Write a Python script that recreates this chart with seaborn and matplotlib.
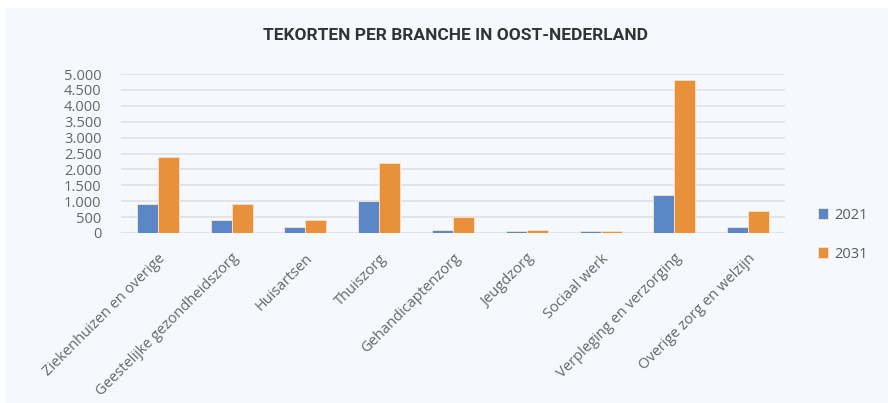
import pandas as pd
import matplotlib.pyplot as plt
import matplotlib as mpl
import seaborn as sns
from matplotlib.patches import Rectangle

# data
branches = ["Ziekenhuizen en overige", "Geestelijke gezondheidszorg", "Huisartsen",
            "Thuiszorg", "Gehandicaptenzorg", "Jeugdzorg", "Sociaal werk",
            "Verpleging en verzorging", "Overige zorg en welzijn"]
tekort_2021 = [900, 400, 200, 1000, 100, 50, 50, 1200, 200]
tekort_2031 = [2400, 900, 400, 2200, 500, 100, 50, 4800, 700]
years = ["2021", "2031"]
yticks = [0, 500, 1000, 1500, 2000, 2500, 3000, 3500, 4000, 4500, 5000]

df = pd.DataFrame({"Branche": branches * 2,
                   "Jaar": [years[0]] * len(branches) + [years[1]] * len(branches),
                   "Tekort": tekort_2021 + tekort_2031})

sns.set_style("white")
plt.rcParams['font.family'] = ['Open Sans', 'DejaVu Sans']

bg = "#F5F8FC"
fig = plt.figure(figsize=(8.88, 4.03), dpi=100)
fig.patch.set_facecolor("white")
fig.patches.append(Rectangle((5 / 888, 0), 1, (403 - 8) / 403, transform=fig.transFigure,
                             facecolor=bg, edgecolor="none", zorder=-10))

ax = fig.add_axes([121 / 888, (403 - 233) / 403, (785 - 121) / 888, (233 - 74) / 403])
ax.set_facecolor(bg)

sns.barplot(data=df, x="Branche", y="Tekort", hue="Jaar", order=branches,
            palette=["#5B87C6", "#E8903A"], saturation=1, width=0.57, ax=ax,
            edgecolor="#FBE3CC", linewidth=0.6, errorbar=None)

ax.set_ylim(0, 5000)
ax.set_xlim(-0.5, len(branches) - 0.5)
ax.set_yticks(yticks)
ax.set_yticklabels([f"{v:,}".replace(",", ".") for v in yticks], fontsize=10.5, color="#666666")
ax.yaxis.grid(True, color="#DDE1E7", linewidth=1.2)
ax.set_axisbelow(True)
ax.tick_params(axis="y", length=0, pad=14)
ax.tick_params(axis="x", length=0, pad=13)
ax.set_xticks(range(len(branches)))
ax.set_xticklabels(branches, rotation=45, ha="right", rotation_mode="anchor",
                   fontsize=10.5, color="#666666")
ax.set_xlabel("")
ax.set_ylabel("")
for s in ax.spines.values():
    s.set_visible(False)

ax.legend(loc="center left", bbox_to_anchor=(1.03, -0.01), frameon=False, fontsize=10.5,
          labelcolor="#595959", handlelength=0.7, handleheight=0.7, handletextpad=0.4,
          labelspacing=1.65)

fig.text(455 / 888, 1 - 35 / 403, "TEKORTEN PER BRANCHE IN OOST-NEDERLAND",
         ha="center", va="center", fontsize=12.5, fontweight="bold", color="#333333",
         family=["Roboto", "DejaVu Sans"])

plt.savefig("out.png", dpi=100, facecolor=fig.get_facecolor())
